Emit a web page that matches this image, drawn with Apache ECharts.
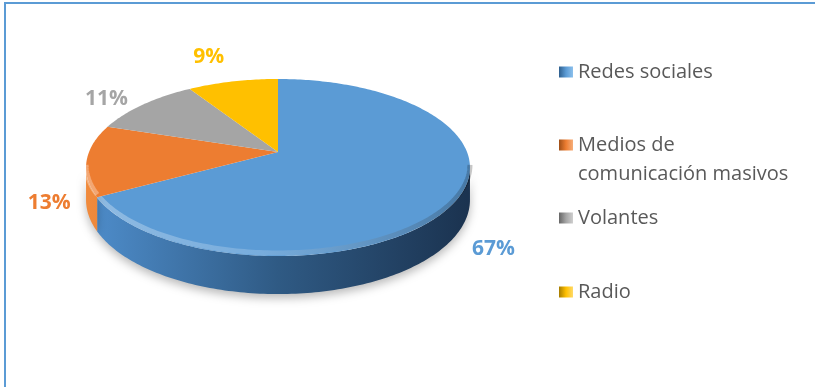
<!DOCTYPE html>
<html>
<head>
<meta charset="utf-8">
<script src="https://cdn.jsdelivr.net/npm/echarts@6/dist/echarts.min.js"></script>
<style>
  html, body { margin: 0; padding: 0; background: #fff; }
  #wrap { position: relative; width: 815px; height: 387px; overflow: hidden; }
  #chart { position: absolute; left: 0; top: 0; width: 815px; height: 387px; }
  .edge-top { position: absolute; left: 4px; top: 2px; width: 811px; border-top: 2px solid #5B9BD5; }
  .edge-left { position: absolute; left: 4px; top: 2px; height: 385px; border-left: 2px solid #5B9BD5; }
</style>
</head>
<body>
<div id="wrap">
  <div id="chart"></div>
  <div class="edge-top"></div>
  <div class="edge-left"></div>
</div>
<script>
// Survey answers: which channel people learned about it through (percent)
const categories = ['Redes sociales', 'Medios de comunicación masivos', 'Volantes', 'Radio'];
const values = [67, 13, 11, 9];

// Slice colours: top face, and the side wall from lit (left) to shaded (right)
const topColors = ['#5B9BD5', '#ED7D31', '#A5A5A5', '#FFC000'];
const sideColors = [
  ['#4E8DCB', '#2F5A84', '#1B3350'],
  ['#F08A3C', '#C8621E', '#8F4412'],
  ['#BDBDBD', '#8A8A8A', '#5E5E5E'],
  ['#FFD24D', '#D9A300', '#9C7500']
];
const legendShade = [
  ['#2E5F8E', '#5B9BD5', '#8CC0EC'],
  ['#9E4E17', '#ED7D31', '#F6AE7A'],
  ['#666666', '#A5A5A5', '#CFCFCF'],
  ['#A67C00', '#FFC000', '#FFDA6A']
];

// Tilted disc seen in perspective: centre, half-axes, perspective strength, wall height
const disc = { cx: 278, cy: 152, a: 189, b: 85.8, k: 0.175, depth: 31.4 };

const FONT = '"Open Sans", "Noto Sans", sans-serif';

function project(phi, r, drop) {
  const u = r * Math.sin(phi);
  const v = -r * Math.cos(phi);
  const s = 1 / (1 - disc.k * v);
  return [disc.cx + disc.a * u * s, disc.cy + (disc.b * v + drop) * s];
}

function arc(p0, p1, drop) {
  const n = Math.max(2, Math.ceil(Math.abs(p1 - p0) / (Math.PI / 180)) + 1);
  const pts = [];
  for (let j = 0; j < n; j++) {
    pts.push(project(p0 + (p1 - p0) * j / (n - 1), 1, drop));
  }
  return pts;
}

const total = values.reduce((s, v) => s + v, 0);
let running = 0;
const spans = values.map(v => {
  const start = running;
  running += v;
  return [start / total, running / total, v];
});

function makeRenderer(i) {
  return function (params, api) {
    const TAU = Math.PI * 2;
    const p0 = api.value(0) * TAU;
    const p1 = api.value(1) * TAU;
    const pct = Math.round(api.value(2) / total * 100);
    const children = [];
    const left = disc.cx - disc.a, right = disc.cx + disc.a;

    // visible part of the outer wall (front half of the disc)
    const vis0 = Math.acos(-disc.k), vis1 = TAU - Math.acos(-disc.k);
    const w0 = Math.max(p0, vis0), w1 = Math.min(p1, vis1);
    if (w1 > w0) {
      const topArc = arc(w0, w1, 0);
      const botArc = arc(w0, w1, disc.depth).reverse();
      children.push({
        type: 'polygon',
        shape: { points: topArc.concat(botArc) },
        style: {
          fill: new echarts.graphic.LinearGradient(left, 0, right, 0, [
            { offset: 0, color: sideColors[i][0] },
            { offset: 0.5, color: sideColors[i][1] },
            { offset: 1, color: sideColors[i][2] }
          ], true),
          shadowBlur: 10,
          shadowOffsetY: 4,
          shadowColor: 'rgba(0,0,0,0.28)'
        }
      });
    }

    // top face
    const face = [[disc.cx, disc.cy]].concat(arc(p0, p1, 0));
    children.push({
      type: 'polygon',
      shape: { points: face },
      style: { fill: topColors[i] }
    });

    // soft bevel along the front edge of the top face
    if (w1 > w0) {
      const edge = arc(w0, w1, -2.5);
      children.push({
        type: 'polyline',
        shape: { points: edge },
        style: {
          fill: null,
          lineWidth: 5,
          stroke: new echarts.graphic.LinearGradient(left, 0, right, 0, [
            { offset: 0, color: 'rgba(255,255,255,0.32)' },
            { offset: 0.45, color: 'rgba(255,255,255,0.18)' },
            { offset: 1, color: 'rgba(0,0,0,0.22)' }
          ], true)
        }
      });
    }

    // percentage label just outside the slice
    const pm = (p0 + p1) / 2;
    const rimTop = project(pm, 1, 0);
    const front = -Math.cos(pm) > 0;
    const anchor = front ? project(pm, 1, disc.depth) : rimTop;
    let dx = rimTop[0] - disc.cx, dy = rimTop[1] - disc.cy;
    const len = Math.hypot(dx, dy);
    dx /= len; dy /= len;
    const gap = 16;
    children.push({
      type: 'text',
      x: anchor[0] + dx * gap,
      y: anchor[1] + dy * gap,
      style: {
        text: pct + '%',
        fill: topColors[i],
        font: 'bold 21px ' + FONT,
        align: dx > 0.3 ? 'left' : (dx < -0.3 ? 'right' : 'center'),
        verticalAlign: dy > 0 ? 'top' : (dy < -0.5 ? 'bottom' : 'middle')
      }
    });

    return { type: 'group', children: children };
  };
}

const series = categories.map((name, i) => ({
  type: 'custom',
  name: name,
  coordinateSystem: 'none',
  silent: true,
  itemStyle: { color: topColors[i] },
  renderItem: makeRenderer(i),
  data: [spans[i]]
}));

// one legend block per entry so each row sits where it belongs;
// the long entry wraps, and a leading empty line keeps its first line level with the swatch
const legendIconCentres = [72, 145, 218, 292];
const legends = categories.map((name, i) => {
  const twoLine = name.indexOf('comunicación') >= 0;
  return {
    left: 559,
    top: twoLine ? legendIconCentres[i] - 43.5 : legendIconCentres[i] - 10,
    orient: 'vertical',
    padding: 0,
    itemWidth: 14,
    itemHeight: 11,
    selectedMode: false,
    formatter: twoLine ? (n => '\n' + n.replace('de ', 'de\n')) : undefined,
    textStyle: twoLine
      ? { fontFamily: FONT, fontSize: 20, color: '#595959', lineHeight: 29 }
      : { fontFamily: FONT, fontSize: 20, color: '#595959' },
    data: [{
      name: name,
      icon: 'rect',
      itemStyle: {
        color: new echarts.graphic.LinearGradient(0, 0, 1, 0, [
          { offset: 0, color: legendShade[i][0] },
          { offset: 0.5, color: legendShade[i][1] },
          { offset: 1, color: legendShade[i][2] }
        ])
      }
    }]
  };
});

const chart = echarts.init(document.getElementById('chart'), null, { renderer: 'canvas' });
chart.setOption({
  backgroundColor: '#fff',
  animation: false,
  legend: legends,
  series: series
});
</script>
</body>
</html>
